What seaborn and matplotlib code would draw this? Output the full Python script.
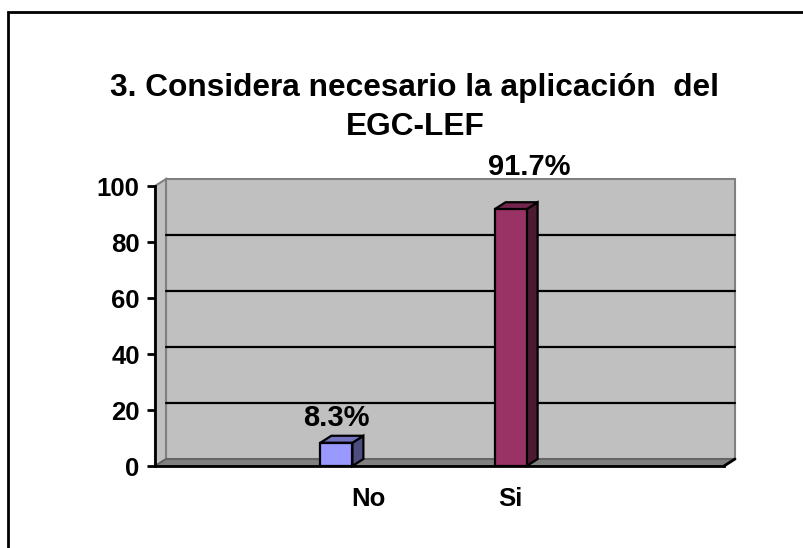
import matplotlib
matplotlib.use("Agg")
import matplotlib.pyplot as plt
from matplotlib.patches import Polygon, Rectangle
import seaborn as sns
import pandas as pd

# Survey answers (percent)
answers = ["No", "Si"]
percent = [8.3, 91.7]
slots = [" ", "No", "Si", "  "]          # category slots on the x axis
series_order = ["No", "Si", "Total"]     # series layout of the clustered columns
yticks = [0, 20, 40, 60, 80, 100]
title_lines = ["3. Considera necesario la aplicación  del", "EGC-LEF"]

front = {"No": "#9999FF", "Si": "#993366", "Total": "#FFFFCC"}
side = {"No": "#4D4D80", "Si": "#4D1A33"}
top = {"No": "#7373BF", "Si": "#73264D"}
# data-label offsets from the top-centre of each column, in pixels
label_nudge = {"No": (0, 25), "Si": (19, 42)}

df = pd.DataFrame({"answer": answers, "series": answers, "percent": percent})

sns.set_theme(style="white")
plt.rcParams["font.family"] = ["Liberation Sans", "DejaVu Sans"]
plt.rcParams["font.weight"] = "bold"
plt.rcParams["text.color"] = "black"
plt.rcParams["xtick.color"] = "black"
plt.rcParams["ytick.color"] = "black"
plt.rcParams["xtick.labelcolor"] = "black"
plt.rcParams["ytick.labelcolor"] = "black"

fig = plt.figure(figsize=(8.04, 5.48), dpi=100)
ax = fig.add_axes([155 / 804, 1 - 466 / 548, 569 / 804, 280 / 548])

sns.barplot(data=df, x="answer", y="percent", hue="series", order=slots,
            hue_order=series_order, palette=front, saturation=1, width=0.675,
            dodge=True, edgecolor="black", linewidth=1.6, legend=False, ax=ax,
            zorder=3)

ax.set_xlim(-0.5, 3.5)
ax.set_ylim(0, 100)

# depth of the 3-D box, in pixels converted to data units
bbox = ax.get_window_extent()
dx = 11 * 4 / bbox.width
dy = 7 * 100 / bbox.height
x0, x1 = -0.5, 3.5

# back wall, side wall and floor
ax.add_patch(Rectangle((x0 + dx, dy), x1 - x0, 100, facecolor="#C0C0C0",
                       edgecolor="#808080", lw=1.5, zorder=0, clip_on=False))
ax.add_patch(Polygon([(x0, 0), (x0, 100), (x0 + dx, 100 + dy), (x0 + dx, dy)],
                     closed=True, facecolor="#C0C0C0", edgecolor="#808080",
                     lw=1.5, zorder=0.5, clip_on=False))
ax.add_patch(Polygon([(x0, 0), (x1, 0), (x1 + dx, dy), (x0 + dx, dy)],
                     closed=True, facecolor="#808080", edgecolor="#606060",
                     lw=1.2, zorder=1, clip_on=False))
for v in yticks[1:-1]:
    ax.plot([x0 + dx, x1 + dx], [v + dy, v + dy], color="black", lw=1.6,
            zorder=1, clip_on=False)

# side and top faces of each column, plus its value label
hex_to_key = {c.lower(): k for k, c in front.items()}
for bar in list(ax.patches):
    if not isinstance(bar, Rectangle) or bar.get_zorder() != 3:
        continue
    h = bar.get_height()
    if not h or h != h:
        continue
    bx, bw = bar.get_x(), bar.get_width()
    key = hex_to_key.get(matplotlib.colors.to_hex(bar.get_facecolor()), "No")
    ax.add_patch(Polygon([(bx + bw, 0), (bx + bw + dx, dy), (bx + bw + dx, h + dy),
                          (bx + bw, h)], closed=True, facecolor=side[key],
                         edgecolor="black", lw=1.6, zorder=2.9, clip_on=False))
    ax.add_patch(Polygon([(bx, h), (bx + dx, h + dy), (bx + bw + dx, h + dy),
                          (bx + bw, h)], closed=True, facecolor=top[key],
                         edgecolor="black", lw=1.6, zorder=2.9, clip_on=False))
    ax.annotate(f"{h:.1f}%", xy=(bx + bw / 2, h), xytext=label_nudge[key],
                textcoords="offset pixels", ha="center", va="center",
                fontsize=21, fontweight="bold", color="black")

# axes lines and ticks
for s in ["top", "right"]:
    ax.spines[s].set_visible(False)
for s in ["left", "bottom"]:
    ax.spines[s].set_color("black")
    ax.spines[s].set_linewidth(2)
    ax.spines[s].set_zorder(5)
ax.plot([x1, x1 + dx], [0, dy], color="black", lw=2, clip_on=False, zorder=5)

ax.set_yticks(yticks)
ax.set_yticklabels([str(v) for v in yticks], fontsize=18.5, fontweight="bold",
                   color="black")
ax.set_xticks([1, 2])
ax.set_xticklabels(answers, fontsize=18.5, fontweight="bold", color="black")
ax.set_xticks([-0.5, 0.5, 1.5, 2.5, 3.5], minor=True)
ax.tick_params(axis="x", which="major", length=0, pad=15)
ax.tick_params(axis="x", which="minor", length=6, width=2, color="black", direction="out")
ax.tick_params(axis="y", length=6, width=2, color="black", direction="out", left=True, pad=5)
ax.set_xlabel("")
ax.set_ylabel("")
ax.grid(False)
ax.set_facecolor("none")

for line, ypix in zip(title_lines, [88, 127]):
    fig.text(415 / 804, 1 - ypix / 548, line, ha="center", va="center",
             fontsize=22.8, fontweight="bold", color="black")

# chart frame
fig.patches.append(Rectangle((8 / 804, -0.1), 1.2, 1.1 - 12 / 548, transform=fig.transFigure,
                             fill=False, edgecolor="black", lw=2))

fig.savefig("out.png", dpi=100)
